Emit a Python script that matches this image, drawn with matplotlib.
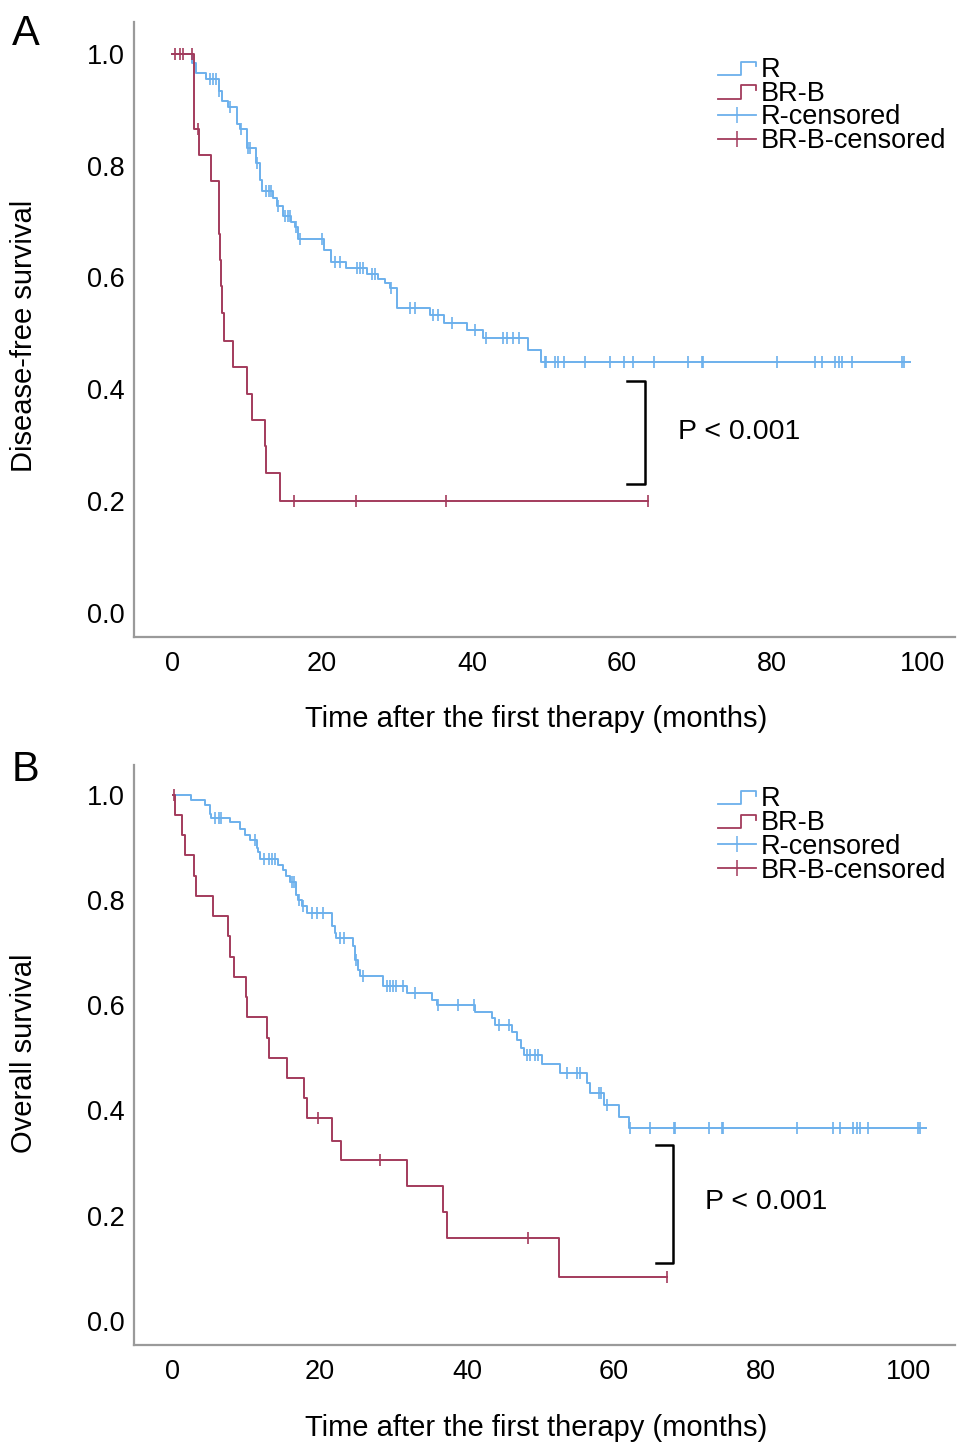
import numpy as np
import matplotlib
matplotlib.use('Agg')
import matplotlib.pyplot as plt
from matplotlib.lines import Line2D
from matplotlib.legend_handler import HandlerBase

plt.rcParams['font.family'] = ['Liberation Sans', 'DejaVu Sans']

# 颜色
blue = '#6cb0ec'
red = '#a33b5c'

# 图A：无病生存 (R 组)
a_r_time = [0, 2.7, 3.2, 4.5, 6.2, 6.6, 7.4, 8.6, 9.1, 10.0, 11.2, 11.7, 12.0, 13.5, 14.0, 14.8,
            15.9, 16.4, 16.8, 20.3, 21.2, 23.2, 26.0, 27.4, 28.4, 29.0, 30.0, 34.4, 36.2, 39.3,
            41.5, 47.5, 49.2]
a_r_surv = [1.0, 0.983, 0.965, 0.955, 0.933, 0.915, 0.905, 0.874, 0.866, 0.832, 0.805, 0.775,
            0.755, 0.742, 0.727, 0.71, 0.7, 0.691, 0.668, 0.649, 0.628, 0.617, 0.607, 0.598,
            0.59, 0.581, 0.545, 0.533, 0.518, 0.506, 0.491, 0.47, 0.448]
a_r_cens = [5.1, 5.5, 5.9, 6.3, 7.7, 9.2, 10.1, 10.4, 11.3, 12.5, 12.9, 13.2, 14.1, 15.1, 15.5,
            15.7, 16.5, 17.1, 20.0, 21.7, 22.4, 24.7, 25.1, 25.5, 26.6, 27.0, 29.2, 31.7, 32.4,
            34.8, 35.4, 37.3, 40.4, 41.8, 44.1, 44.6, 45.5, 46.2, 49.7, 49.8, 51.1, 51.5, 52.2,
            55.1, 58.4, 60.2, 61.5, 64.3, 68.8, 70.6, 70.8, 80.6, 85.7, 86.6, 88.4, 88.9, 89.3,
            90.6, 97.3, 97.6]
a_r_end = 98.4

# 图A：无病生存 (BR-B 组)
a_b_time = [0, 2.9, 3.6, 5.2, 6.2, 6.3, 6.4, 6.5, 6.7, 6.9, 8.1, 10.0, 10.6, 12.4, 12.5, 14.4]
a_b_surv = [1.0, 0.866, 0.819, 0.772, 0.725, 0.678, 0.631, 0.584, 0.536, 0.487, 0.439, 0.392,
            0.345, 0.298, 0.25, 0.2]
a_b_cens = [0.4, 1.1, 1.5, 2.7, 3.4, 16.2, 24.5, 36.5, 63.4]
a_b_end = 63.4

# 图B：总生存 (R 组)
b_r_time = [0, 2.5, 4.35, 5.0, 5.2, 7.8, 9.1, 9.8, 10.5, 11.4, 11.6, 11.9, 14.3, 15.0, 15.4,
            15.9, 16.8, 17.0, 17.5, 18.2, 21.6, 22.0, 22.2, 24.5, 24.8, 25.2, 25.5, 28.6, 31.8,
            35.2, 35.9, 41.1, 43.4, 43.8, 46.1, 46.8, 47.4, 47.8, 50.2, 52.7, 56.3, 56.8, 58.6,
            60.7, 62.0]
b_r_surv = [1.0, 0.99, 0.981, 0.964, 0.956, 0.948, 0.936, 0.924, 0.915, 0.9, 0.891, 0.878,
            0.867, 0.857, 0.845, 0.835, 0.81, 0.8, 0.789, 0.775, 0.75, 0.737, 0.728, 0.712,
            0.686, 0.667, 0.655, 0.637, 0.623, 0.61, 0.601, 0.588, 0.576, 0.563, 0.55, 0.534,
            0.518, 0.506, 0.489, 0.471, 0.452, 0.433, 0.411, 0.388, 0.366]
b_r_cens = [5.7, 6.2, 6.6, 11.2, 12.4, 13.0, 13.5, 13.9, 16.2, 16.5, 17.2, 17.7, 18.9, 19.6,
            20.4, 22.7, 23.3, 24.9, 25.9, 29.1, 29.5, 30.0, 30.4, 31.3, 32.9, 36.1, 38.8, 40.9,
            44.3, 45.7, 48.1, 48.6, 49.3, 49.7, 53.6, 54.9, 55.4, 57.9, 58.3, 59.0, 62.2, 64.9,
            68.2, 68.3, 72.9, 74.7, 74.8, 84.9, 89.8, 90.7, 92.5, 93.0, 93.5, 94.6, 101.4, 101.6]
b_r_end = 102.5

# 图B：总生存 (BR-B 组)
b_b_time = [0, 0.3, 1.2, 1.6, 2.8, 3.1, 5.5, 7.5, 7.7, 8.3, 10.0, 10.1, 12.8, 13.1, 15.5,
            17.8, 18.3, 21.6, 22.9, 31.9, 36.8, 37.3, 52.5]
b_b_surv = [1.0, 0.962, 0.923, 0.885, 0.846, 0.808, 0.769, 0.731, 0.692, 0.654, 0.615, 0.577,
            0.538, 0.5, 0.462, 0.423, 0.385, 0.342, 0.306, 0.257, 0.206, 0.158, 0.084]
b_b_cens = [0.2, 19.7, 28.1, 48.3, 67.2]
b_b_end = 67.2

x_ticks = [0, 20, 40, 60, 80, 100]
y_ticks = [0.0, 0.2, 0.4, 0.6, 0.8, 1.0]
legend_labels = ['R', 'BR-B', 'R-censored', 'BR-B-censored']
p_text = 'P < 0.001'


class StepHandler(HandlerBase):
    # 图例中的阶梯线图标
    def create_artists(self, legend, orig_handle, xdescent, ydescent, width, height, fontsize, trans):
        x0, y0 = -xdescent, -ydescent
        xs = [x0, x0 + 0.62 * width, x0 + 0.62 * width, x0 + width, x0 + width]
        ys = [y0 + 0.1 * height, y0 + 0.1 * height, y0 + 0.8 * height, y0 + 0.8 * height, y0 + 0.55 * height]
        line = Line2D(xs, ys, color=orig_handle.get_color(), lw=orig_handle.get_linewidth())
        line.set_transform(trans)
        return [line]


def km_curve(ax, time, surv, cens, end, color):
    t = np.append(time, end)
    s = np.append(surv, surv[-1])
    ax.step(t, s, where='post', color=color, lw=1.4)
    # 删失点的生存率取自阶梯函数
    idx = np.searchsorted(time, cens, side='right') - 1
    ax.plot(cens, np.array(surv)[idx], linestyle='none', marker='|', markersize=8.5,
            mew=1.2, color=color)


def panel(ax, r_data, b_data, xlim, ylim, ylabel, bracket, ptext_pos, leg_pos, ylab_y, xlab_y):
    km_curve(ax, *r_data, blue)
    km_curve(ax, *b_data, red)
    ax.set_xlim(xlim)
    ax.set_ylim(ylim)
    ax.set_xticks(x_ticks)
    ax.set_yticks(y_ticks)
    ax.set_yticklabels(['%.1f' % v for v in y_ticks])
    for side in ['top', 'right']:
        ax.spines[side].set_visible(False)
    for side in ['left', 'bottom']:
        ax.spines[side].set_color('#9a9a9a')
        ax.spines[side].set_linewidth(1.6)
    ax.tick_params(length=0, labelsize=19.5)
    ax.tick_params(axis='y', pad=7)
    ax.tick_params(axis='x', pad=10)
    ax.set_ylabel(ylabel, fontsize=21)
    ax.yaxis.set_label_coords(-0.117, ylab_y)
    ax.set_xlabel('Time after the first therapy (months)', fontsize=21)
    ax.xaxis.set_label_coords(0.49, xlab_y)
    # 显著性括号
    bx0, bx1, by0, by1 = bracket
    ax.plot([bx0, bx1, bx1, bx0], [by1, by1, by0, by0], color='black', lw=1.8)
    ax.text(ptext_pos[0], ptext_pos[1], p_text, fontsize=20.5, va='center', ha='left')
    handles = [Line2D([], [], color=blue, lw=1.3), Line2D([], [], color=red, lw=1.3),
               Line2D([], [], color=blue, lw=1.3, marker='|', markersize=12, mew=1.1),
               Line2D([], [], color=red, lw=1.3, marker='|', markersize=12, mew=1.1)]
    ax.legend(handles, legend_labels, loc='upper left', bbox_to_anchor=leg_pos, frameon=False,
              fontsize=19.5, handlelength=1.4, handletextpad=0.2, labelspacing=-0.08,
              borderpad=0, borderaxespad=0,
              handler_map={handles[0]: StepHandler(), handles[1]: StepHandler()})


fig = plt.figure(figsize=(9.69, 14.54), dpi=100)
ax1 = fig.add_axes([0.1383, 0.5619, 0.8473, 0.4230])
ax2 = fig.add_axes([0.1383, 0.0750, 0.8473, 0.3989])

panel(ax1, (a_r_time, a_r_surv, a_r_cens, a_r_end), (a_b_time, a_b_surv, a_b_cens, a_b_end),
      (-5.07, 104.4), (-0.043, 1.057), 'Disease-free survival',
      (60.7, 63.1, 0.231, 0.415), (67.5, 0.324), (0.711, 0.9435), 0.49, -0.11)
panel(ax2, (b_r_time, b_r_surv, b_r_cens, b_r_end), (b_b_time, b_b_surv, b_b_cens, b_b_end),
      (-5.3, 106.4), (-0.046, 1.057), 'Overall survival',
      (65.7, 68.0, 0.110, 0.335), (72.4, 0.226), (0.711, 0.9634), 0.503, -0.119)

fig.text(12 / 969, 1 - 14 / 1454, 'A', fontsize=30, va='top', ha='left')
fig.text(12 / 969, 1 - 750 / 1454, 'B', fontsize=30, va='top', ha='left')

plt.savefig('out.png', dpi=100)
